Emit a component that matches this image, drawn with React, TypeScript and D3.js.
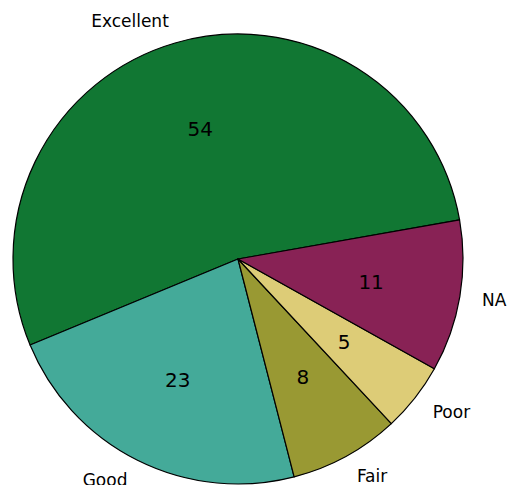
import React from "react";
import * as d3 from "d3";

const categories = ["Excellent", "Good", "Fair", "Poor", "NA"];
const values = [54, 23, 8, 5, 11];
const colors = ["#117733", "#44AA99", "#999933", "#DDCC77", "#882255"];

const W = 510;
const H = 485;
const CX = 238;
const CY = 259;
const R = 225;
const START_DEG = 10; // counterclockwise from east

export default function App() {
  const toRad = Math.PI / 180;
  const start = (90 - START_DEG) * toRad;
  const pie = d3
    .pie<number>()
    .sort(null)
    .value((d) => d)
    .startAngle(start)
    .endAngle(start - 2 * Math.PI);
  const arcs = pie(values);
  const arc = d3.arc<d3.PieArcDatum<number>>().innerRadius(0).outerRadius(R);
  const font = "DejaVu Sans, sans-serif";

  return (
    <svg
      width={W}
      height={H}
      style={{ position: "absolute", left: 0, top: 0, background: "#fff" }}
    >
      <g transform={`translate(${CX},${CY})`}>
        {arcs.map((a, i) => (
          <path
            key={i}
            d={arc(a) as string}
            fill={colors[i]}
            stroke="#000"
            strokeWidth={1.2}
            strokeLinejoin="round"
          />
        ))}
        {arcs.map((a, i) => {
          const m = (a.startAngle + a.endAngle) / 2;
          const px = 0.6 * R * Math.sin(m);
          const py = -0.6 * R * Math.cos(m);
          const lx = 1.1 * R * Math.sin(m);
          const ly = -1.1 * R * Math.cos(m);
          return (
            <g key={"t" + i}>
              <text
                x={px}
                y={py}
                textAnchor="middle"
                dominantBaseline="central"
                fontFamily={font}
                fontSize={20}
                fill="#000"
              >
                {values[i]}
              </text>
              <text
                x={lx}
                y={ly}
                textAnchor={lx > 0 ? "start" : "end"}
                dominantBaseline="central"
                fontFamily={font}
                fontSize={17}
                fill="#000"
              >
                {categories[i]}
              </text>
            </g>
          );
        })}
      </g>
    </svg>
  );
}
